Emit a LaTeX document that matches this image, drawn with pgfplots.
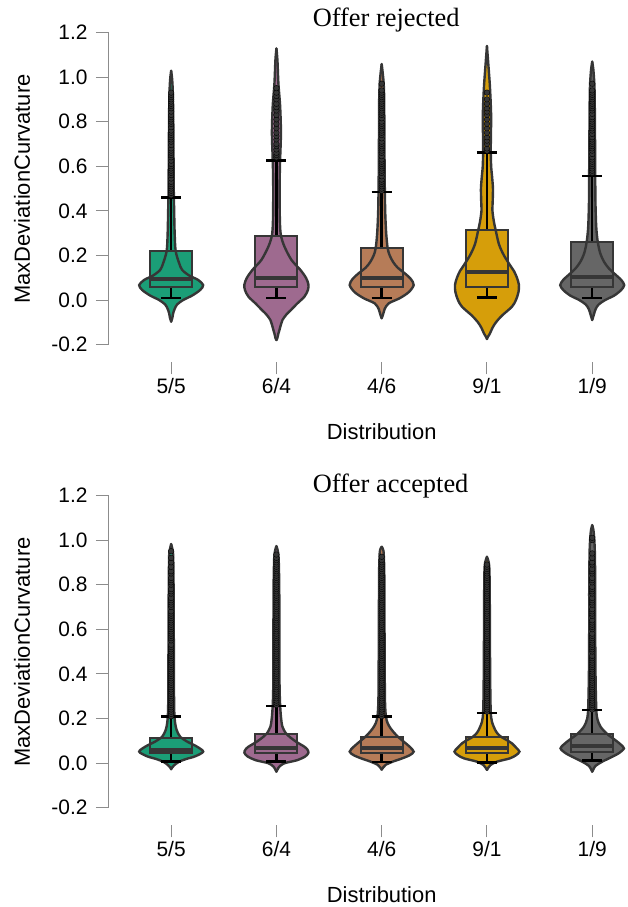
\documentclass[border=0pt]{standalone}
\usepackage{fontspec}
\setmainfont{Liberation Sans}
\newfontfamily\titlefont{Liberation Serif}
\usepackage{pgfplots}
\usepackage{pgfplotstable}
\usepgfplotslibrary{fillbetween,statistics}
\pgfplotsset{compat=1.18}

\definecolor{cA}{HTML}{1B9E77}
\definecolor{cB}{HTML}{9E6A8F}
\definecolor{cC}{HTML}{B67C58}
\definecolor{cD}{HTML}{D69E0A}
\definecolor{cE}{HTML}{666666}
\definecolor{lgray}{HTML}{363636}
\definecolor{tgray}{HTML}{8C8C8C}

% violin half-widths (w, in px) against value (y)
\pgfplotstableread{
y w
-0.097 0
-0.08 1.2
-0.06 2
-0.04 3.5
-0.02 6
0.0 12
0.02 21
0.045 29
0.067 32
0.09 27
0.11 18
0.135 11
0.165 8
0.22 4.5
0.3 3.5
0.4 3
0.5 2.6
0.7 2.3
0.85 2
0.95 1.5
1.0 0.8
1.028 0
}\vTa
\pgfplotstableread{
y w
-0.18 0
-0.17 1
-0.15 2
-0.135 3
-0.11 4.5
-0.09 6
-0.065 10
-0.045 14.5
-0.015 21
0.015 28
0.045 31.5
0.07 32
0.1 29.5
0.135 24
0.18 15
0.24 8
0.29 4.5
0.35 3.5
0.46 3.2
0.55 3.3
0.63 3.7
0.75 4.5
0.87 3.7
0.97 2
1.076 1
1.128 0
}\vTb
\pgfplotstableread{
y w
-0.082 0
-0.07 1
-0.055 2
-0.04 3
-0.015 7
0.008 18
0.035 27
0.067 32
0.095 29
0.12 23
0.145 16
0.17 11.5
0.2 8
0.232 6
0.3 4.5
0.4 3.5
0.55 3
0.75 2.7
0.9 2.5
0.97 2
1.02 1
1.058 0
}\vTc
\pgfplotstableread{
y w
-0.175 0
-0.165 1
-0.15 3
-0.125 5.5
-0.1 9
-0.07 15
-0.03 25
0.0 29
0.035 31.5
0.067 32
0.1 30
0.13 27
0.15 24
0.2 17
0.25 12
0.314 8.7
0.35 7
0.4 5.5
0.45 5.8
0.5 6
0.55 5.2
0.6 4.2
0.67 3.8
0.75 4
0.82 4.2
0.9 3.6
0.97 2.8
1.05 1.5
1.139 0
}\vTd
\pgfplotstableread{
y w
-0.09 0
-0.075 1
-0.06 2
-0.04 3.5
-0.02 6.5
0.0 13
0.02 22
0.045 29
0.067 32
0.09 29
0.115 23
0.14 17
0.17 12
0.21 8
0.262 5.5
0.33 4
0.45 3.2
0.6 3
0.8 2.7
0.95 2.3
1.03 1.2
1.069 0
}\vTe
\pgfplotstableread{
y w
-0.028 0
-0.02 1
-0.009 3.3
0.006 8
0.018 15
0.03 24
0.051 32
0.073 26
0.085 21
0.096 16
0.118 9
0.148 5.5
0.185 3.8
0.25 3
0.4 2.8
0.6 2.6
0.8 2.4
0.93 2
0.96 1.2
0.982 0
}\vBa
\pgfplotstableread{
y w
-0.039 0
-0.03 1
-0.016 3
-0.001 8
0.013 21
0.03 29
0.046 32
0.06 31
0.073 28
0.096 19.5
0.118 13
0.133 9.5
0.163 6
0.208 4.5
0.28 3.5
0.4 3
0.6 3
0.8 2.8
0.92 2.2
0.955 1.2
0.973 0
}\vBb
\pgfplotstableread{
y w
-0.03 0
-0.02 1.5
-0.008 4
0.006 11
0.02 20
0.035 28
0.051 32
0.073 28
0.096 22
0.115 17
0.133 13
0.155 9
0.178 6
0.21 4.2
0.28 3.3
0.45 3
0.65 2.8
0.85 2.6
0.94 2
0.96 1.2
0.97 0
}\vBc
\pgfplotstableread{
y w
-0.031 0
-0.02 1.5
-0.009 3.5
0.006 10
0.021 23
0.035 29
0.051 32.5
0.07 29
0.088 25
0.1 21
0.115 15
0.13 11
0.148 8.3
0.185 5
0.23 3.8
0.35 3.3
0.55 3
0.75 2.8
0.86 2.5
0.9 1.8
0.925 0
}\vBd
\pgfplotstableread{
y w
-0.039 0
-0.03 1
-0.013 3.3
0.006 10
0.028 20
0.045 27
0.066 31.7
0.085 28
0.103 23
0.13 15
0.163 8.3
0.2 5
0.25 4
0.4 3.3
0.6 3
0.8 3
0.95 2.6
1.02 1.8
1.05 1
1.067 0
}\vBe

\newcommand{\violin}[4]{% name, centre, colour, table
  \addplot[draw=none, smooth, name path=#1r] table[x expr={#2+\thisrow{w}/105.26}, y=y] {#4};
  \addplot[draw=none, smooth, name path=#1l] table[x expr={#2-\thisrow{w}/105.26}, y=y] {#4};
  \addplot[fill=#3, draw=none] fill between[of=#1r and #1l];
  \addplot[lgray, line width=2.4bp, line cap=round, smooth] table[x expr={#2+\thisrow{w}/105.26}, y=y] {#4};
  \addplot[lgray, line width=2.4bp, line cap=round, smooth] table[x expr={#2-\thisrow{w}/105.26}, y=y] {#4};
}
\newcommand{\bxfill}[4]{% pos, q1, q3, colour
  \addplot[boxplot/draw direction=y,
    boxplot prepared={draw position=#1, lower whisker=#2, lower quartile=#2,
    median=#2, upper quartile=#3, upper whisker=#3, box extend=0.4},
    fill=#4, draw=none] coordinates {};
}
\newcommand{\bxline}[6]{% pos, lower whisker, q1, median, q3, upper whisker
  \addplot[boxplot/draw direction=y,
    boxplot prepared={draw position=#1, lower whisker=#2, lower quartile=#3,
    median=#4, upper quartile=#5, upper whisker=#6, box extend=0.4, whisker extend=0.19},
    draw=lgray, line width=2bp, fill=none,
    boxplot/every median/.style={line width=4bp},
    boxplot/every whisker/.style={black, line width=2.4bp}] coordinates {};
}
\newcommand{\outl}[2]{% pos, outlier values
  \addplot[only marks, mark=*, mark size=2.8bp, mark options={draw=none, fill=lgray}]
    table[x expr=#1, y index=0, header=false, row sep=\\] {#2};
}

\pgfplotsset{vpanel/.style={
  scale only axis, width=520bp, height=330bp,
  xmin=-0.6, xmax=4.34, ymin=-0.28, ymax=1.2,
  clip=false,
  axis x line*=bottom, axis y line*=left,
  axis line style={draw=none},
  tick align=outside, major tick length=12bp,
  tick style={tgray, line width=1bp},
  xtick={0,1,2,3,4}, xticklabels={5/5,6/4,4/6,9/1,1/9},
  ytick={-0.2,0,0.2,0.4,0.6,0.8,1.0,1.2},
  yticklabels={-0.2,0.0,0.2,0.4,0.6,0.8,1.0,1.2},
  ticklabel style={font=\fontsize{21}{24}\selectfont, black},
  yticklabel style={xshift=-5bp},
  minor tick num=0,
}}
\newcommand{\lblfont}{\fontsize{22}{26}\selectfont}
\newcommand{\ttlfont}{\titlefont\fontsize{26.5}{30}\selectfont}

\begin{document}
\begin{tikzpicture}
\begin{axis}[vpanel, at={(0,0)}, anchor=south west]
  \draw[tgray, line width=1bp] (axis cs:-0.6,-0.2) -- (axis cs:-0.6,1.2);
  % 5/5
  \bxfill{0}{0.057}{0.22}{cA}
  \violin{ta}{0}{cA}{\vTa}
  \bxline{0}{0.008}{0.057}{0.093}{0.22}{0.46}
  \outl{0}{0.47\\0.48\\0.49\\0.50\\0.51\\0.52\\0.53\\0.545\\0.56\\0.57\\0.58\\0.59\\0.60\\0.61\\0.625\\0.64\\0.65\\0.66\\0.67\\0.68\\0.695\\0.71\\0.72\\0.73\\0.74\\0.75\\0.76\\0.775\\0.79\\0.80\\0.81\\0.82\\0.83\\0.845\\0.86\\0.87\\0.88\\0.89\\0.90\\0.91\\0.92\\0.93\\}
  % 6/4
  \bxfill{1}{0.057}{0.288}{cB}
  \violin{tb}{1}{cB}{\vTb}
  \bxline{1}{0.01}{0.057}{0.097}{0.288}{0.625}
  \outl{1}{0.64\\0.65\\0.66\\0.675\\0.69\\0.70\\0.72\\0.735\\0.75\\0.77\\0.79\\0.81\\0.83\\0.85\\0.865\\0.88\\0.90\\0.915\\0.93\\0.95\\}
  % 4/6
  \bxfill{2}{0.06}{0.232}{cC}
  \violin{tc}{2}{cC}{\vTc}
  \bxline{2}{0.008}{0.06}{0.097}{0.232}{0.484}
  \outl{2}{0.49\\0.50\\0.51\\0.52\\0.53\\0.54\\0.555\\0.57\\0.58\\0.59\\0.60\\0.61\\0.62\\0.63\\0.645\\0.66\\0.67\\0.68\\0.69\\0.70\\0.71\\0.725\\0.74\\0.75\\0.76\\0.77\\0.78\\0.79\\0.80\\0.815\\0.83\\0.84\\0.85\\0.86\\0.87\\0.88\\0.89\\0.90\\0.91\\0.92\\0.93\\0.94\\0.97\\}
  % 9/1
  \bxfill{3}{0.057}{0.314}{cD}
  \violin{td}{3}{cD}{\vTd}
  \bxline{3}{0.012}{0.057}{0.127}{0.314}{0.662}
  \outl{3}{0.67\\0.68\\0.70\\0.715\\0.73\\0.75\\0.77\\0.79\\0.81\\0.83\\0.845\\0.86\\0.88\\0.90\\0.93\\}
  % 1/9
  \bxfill{4}{0.06}{0.262}{cE}
  \violin{te}{4}{cE}{\vTe}
  \bxline{4}{0.01}{0.06}{0.105}{0.262}{0.557}
  \outl{4}{0.57\\0.58\\0.59\\0.60\\0.61\\0.62\\0.63\\0.64\\0.655\\0.67\\0.68\\0.69\\0.70\\0.71\\0.72\\0.73\\0.745\\0.76\\0.77\\0.78\\0.79\\0.80\\0.81\\0.82\\0.835\\0.85\\0.86\\0.87\\0.88\\0.89\\0.90\\0.91\\0.92\\0.93\\0.94\\0.97\\}
  \node[font=\ttlfont, anchor=base] at (axis cs:2.043,1.2256) {Offer rejected};
  \node[font=\lblfont, rotate=90] at (axis cs:-1.416,0.498) {MaxDeviationCurvature};
  \node[font=\lblfont] at (axis cs:2.0,-0.592) {Distribution};
\end{axis}

\begin{axis}[vpanel, at={(0,-463bp)}, anchor=south west]
  \draw[tgray, line width=1bp] (axis cs:-0.6,-0.2) -- (axis cs:-0.6,1.2);
  % 5/5
  \bxfill{0}{0.043}{0.111}{cA}
  \violin{ba}{0}{cA}{\vBa}
  \bxline{0}{0.006}{0.043}{0.058}{0.111}{0.208}
  \outl{0}{0.21\\0.22\\0.23\\0.24\\0.25\\0.26\\0.27\\0.28\\0.29\\0.30\\0.31\\0.32\\0.33\\0.34\\0.35\\0.36\\0.37\\0.38\\0.39\\0.40\\0.41\\0.42\\0.43\\0.44\\0.45\\0.46\\0.47\\0.48\\0.49\\0.50\\0.51\\0.52\\0.53\\0.55\\0.56\\0.57\\0.58\\0.59\\0.60\\0.61\\0.62\\0.63\\0.64\\0.65\\0.66\\0.67\\0.68\\0.70\\0.71\\0.72\\0.73\\0.74\\0.76\\0.77\\0.78\\0.80\\0.81\\0.82\\0.83\\0.85\\0.86\\0.88\\0.90\\0.92\\0.95\\}
  % 6/4
  \bxfill{1}{0.043}{0.13}{cB}
  \violin{bb}{1}{cB}{\vBb}
  \bxline{1}{0.006}{0.043}{0.066}{0.13}{0.256}
  \outl{1}{0.26\\0.27\\0.28\\0.29\\0.30\\0.31\\0.32\\0.33\\0.34\\0.35\\0.36\\0.37\\0.38\\0.39\\0.40\\0.41\\0.42\\0.43\\0.44\\0.45\\0.46\\0.47\\0.48\\0.49\\0.50\\0.51\\0.52\\0.53\\0.54\\0.55\\0.56\\0.57\\0.58\\0.59\\0.60\\0.61\\0.62\\0.63\\0.64\\0.65\\0.66\\0.67\\0.68\\0.69\\0.70\\0.71\\0.72\\0.73\\0.74\\0.75\\0.76\\0.77\\0.78\\0.79\\0.80\\0.81\\0.82\\0.83\\0.84\\0.85\\0.86\\0.87\\0.88\\0.89\\0.90\\0.91\\0.92\\0.935\\}
  % 4/6
  \bxfill{2}{0.043}{0.115}{cC}
  \violin{bc}{2}{cC}{\vBc}
  \bxline{2}{0.004}{0.043}{0.066}{0.115}{0.208}
  \outl{2}{0.21\\0.22\\0.23\\0.24\\0.25\\0.26\\0.27\\0.28\\0.29\\0.30\\0.31\\0.32\\0.33\\0.34\\0.35\\0.36\\0.37\\0.38\\0.39\\0.40\\0.41\\0.42\\0.43\\0.44\\0.45\\0.46\\0.47\\0.48\\0.49\\0.50\\0.51\\0.52\\0.53\\0.54\\0.55\\0.56\\0.57\\0.58\\0.59\\0.60\\0.61\\0.62\\0.63\\0.64\\0.65\\0.66\\0.67\\0.68\\0.69\\0.70\\0.71\\0.72\\0.73\\0.74\\0.75\\0.76\\0.77\\0.78\\0.79\\0.80\\0.81\\0.82\\0.83\\0.84\\0.85\\0.86\\0.87\\0.88\\0.89\\0.90\\0.91\\0.925\\}
  % 9/1
  \bxfill{3}{0.043}{0.117}{cD}
  \violin{bd}{3}{cD}{\vBd}
  \bxline{3}{0.002}{0.043}{0.066}{0.117}{0.224}
  \outl{3}{0.23\\0.24\\0.25\\0.26\\0.27\\0.28\\0.29\\0.30\\0.31\\0.32\\0.33\\0.34\\0.35\\0.36\\0.37\\0.38\\0.39\\0.40\\0.41\\0.42\\0.43\\0.44\\0.45\\0.46\\0.47\\0.48\\0.49\\0.50\\0.51\\0.52\\0.53\\0.54\\0.55\\0.56\\0.57\\0.58\\0.59\\0.60\\0.61\\0.62\\0.63\\0.64\\0.65\\0.66\\0.67\\0.68\\0.69\\0.70\\0.71\\0.72\\0.73\\0.74\\0.75\\0.76\\0.77\\0.78\\0.79\\0.80\\0.81\\0.82\\0.83\\0.84\\0.85\\0.86\\0.87\\0.88\\0.89\\}
  % 1/9
  \bxfill{4}{0.05}{0.13}{cE}
  \violin{be}{4}{cE}{\vBe}
  \bxline{4}{0.012}{0.05}{0.078}{0.13}{0.238}
  \outl{4}{0.24\\0.25\\0.26\\0.27\\0.28\\0.29\\0.30\\0.31\\0.32\\0.33\\0.34\\0.35\\0.36\\0.37\\0.38\\0.39\\0.40\\0.41\\0.42\\0.43\\0.44\\0.45\\0.46\\0.47\\0.48\\0.50\\0.51\\0.52\\0.53\\0.54\\0.55\\0.56\\0.57\\0.58\\0.60\\0.61\\0.62\\0.63\\0.64\\0.66\\0.67\\0.68\\0.69\\0.71\\0.72\\0.73\\0.74\\0.76\\0.77\\0.78\\0.79\\0.81\\0.82\\0.83\\0.85\\0.86\\0.87\\0.89\\0.90\\0.92\\0.94\\1.0\\1.01\\}
  \node[font=\ttlfont, anchor=base] at (axis cs:2.085,1.211) {Offer accepted};
  \node[font=\lblfont, rotate=90] at (axis cs:-1.416,0.498) {MaxDeviationCurvature};
  \node[font=\lblfont] at (axis cs:2.0,-0.592) {Distribution};
\end{axis}
\path (-108bp,362.44bp) rectangle (520bp,-544.56bp);
\end{tikzpicture}
\end{document}
